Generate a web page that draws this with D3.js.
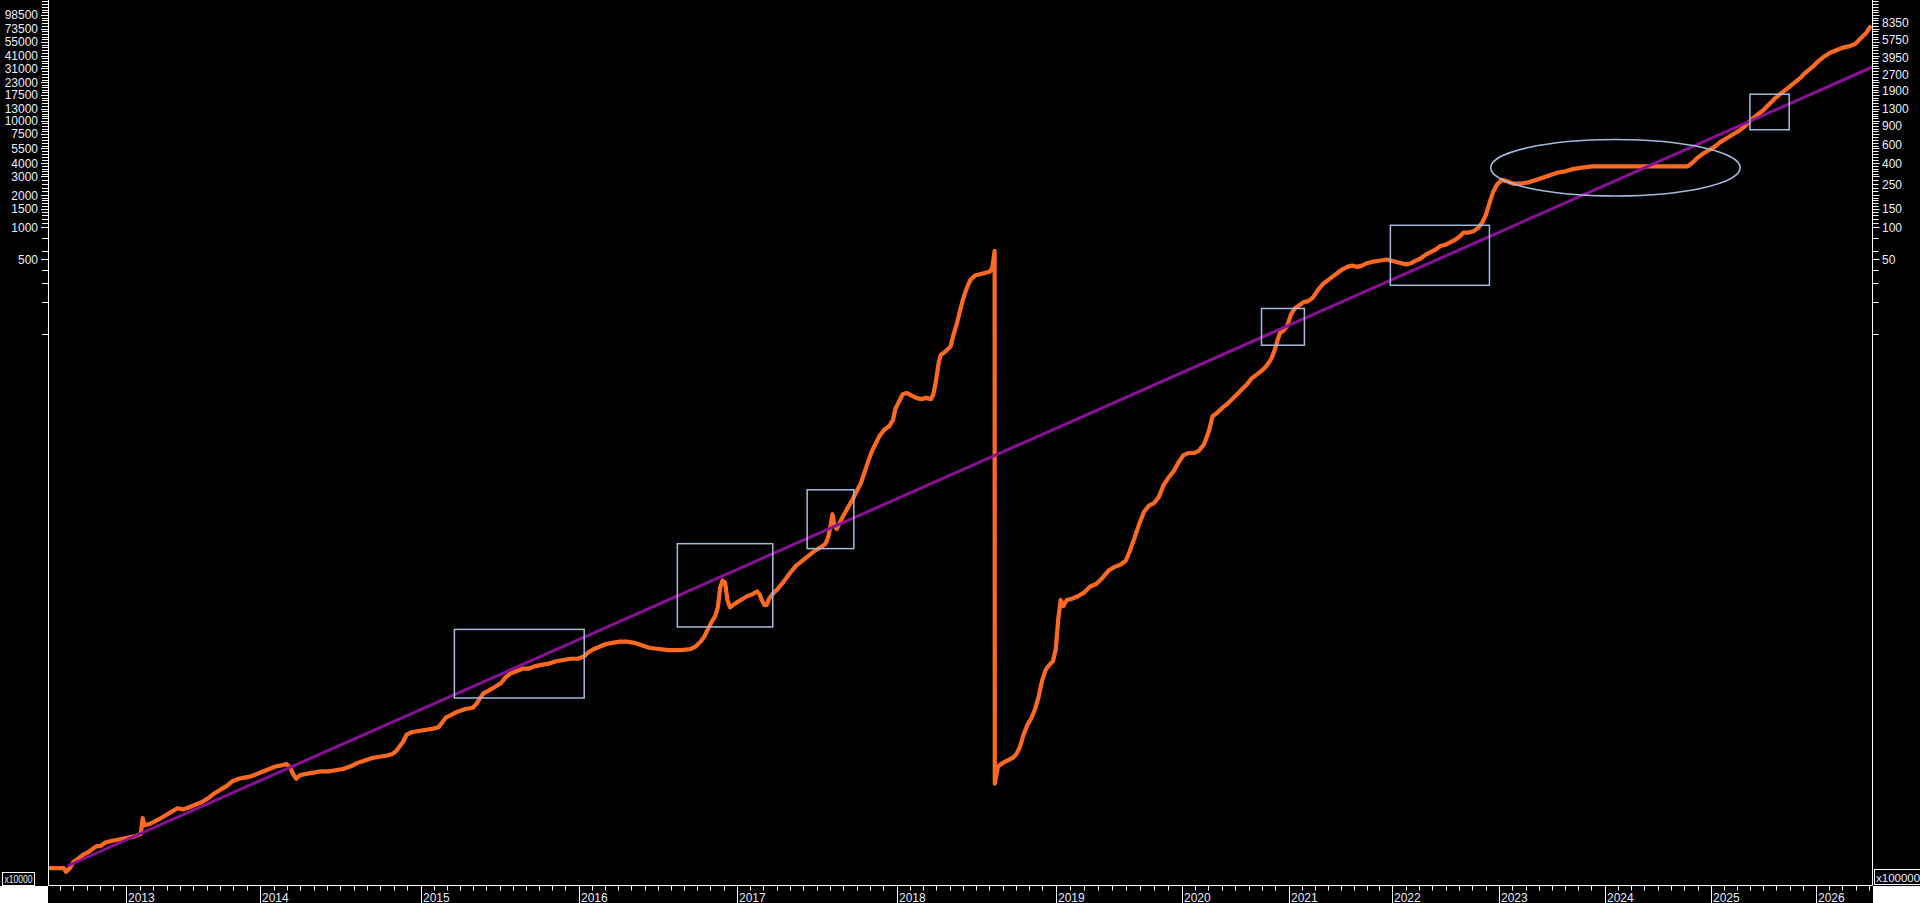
<!DOCTYPE html>
<html><head><meta charset="utf-8">
<script src="https://cdn.jsdelivr.net/npm/d3@7"></script>
<style>html,body{margin:0;padding:0;background:#000;overflow:hidden}svg{display:block}</style>
</head><body>
<svg id="c" width="1920" height="903"></svg>
<script>
// ---------------- DATA ----------------
// time axis: bars per calendar segment (platform uses a bar-index axis)
const segStart = [2012.45,2013,2014,2015,2016,2017,2018,2019,2020,2021,2022,2023,2024,2025,2026];
const segEnd   = [2013,2014,2015,2016,2017,2018,2019,2020,2021,2022,2023,2024,2025,2026,2026.53];
const segBars  = [179,307,368,363,363,367,365,289,246,238,245,242,244,241,130];
const yearLabels = ["2013","2014","2015","2016","2017","2018","2019","2020","2021","2022","2023","2024","2025","2026"];

// left axis tick labels (x10000) and right axis tick labels (x100000)
const leftTickLabels  = [98500,73500,55000,41000,31000,23000,17500,13000,10000,7500,5500,4000,3000,2000,1500,1000,500];
const leftMinorLow    = [1900,1800,1700,1600,1400,1300,1200,1100,800,600,400,300,200,100];
const rightTickLabels = [8350,5750,3950,2700,1900,1300,900,600,400,250,150,100,50];

// orange series
const seriesDates = [2012.453,2012.557,2012.574,2012.600,2012.626,2012.661,2012.695,2012.730,2012.764,2012.790,2012.816,2012.851,2012.885,2012.928,2012.972,
2013.016,2013.061,2013.107,2013.121,2013.134,2013.171,2013.208,2013.244,2013.290,2013.336,2013.382,2013.427,2013.473,2013.519,2013.565,2013.610,2013.656,2013.702,2013.748,2013.793,2013.839,2013.885,2013.931,2013.977,
2014.018,2014.057,2014.095,2014.133,2014.164,2014.187,2014.209,2014.225,2014.248,2014.286,2014.332,2014.378,2014.424,2014.470,2014.516,2014.561,2014.607,2014.653,2014.699,2014.745,2014.791,2014.821,2014.844,2014.867,2014.890,2014.913,2014.943,2014.989,
2015.036,2015.082,2015.113,2015.137,2015.160,2015.191,2015.237,2015.284,2015.330,2015.353,2015.377,2015.400,2015.431,2015.470,2015.508,2015.539,2015.570,2015.609,2015.647,2015.686,2015.725,2015.764,2015.810,2015.857,2015.903,2015.950,2015.996,
2016.035,2016.058,2016.097,2016.136,2016.174,2016.213,2016.259,2016.306,2016.352,2016.399,2016.445,2016.507,2016.569,2016.647,2016.709,2016.740,2016.771,2016.794,2016.817,2016.841,2016.864,2016.880,2016.895,2016.910,2016.926,2016.941,2016.957,2016.988,
2017.026,2017.064,2017.103,2017.126,2017.141,2017.156,2017.172,2017.187,2017.202,2017.225,2017.256,2017.294,2017.333,2017.371,2017.409,2017.448,2017.486,2017.525,2017.555,2017.571,2017.586,2017.598,2017.609,2017.624,2017.640,2017.663,2017.693,2017.724,2017.755,2017.778,2017.801,2017.824,2017.847,2017.870,2017.893,2017.923,2017.954,2017.977,2017.992,
2018.015,2018.038,2018.062,2018.092,2018.123,2018.154,2018.185,2018.216,2018.231,2018.246,2018.262,2018.277,2018.308,2018.339,2018.354,2018.377,2018.400,2018.416,2018.439,2018.462,2018.493,2018.524,2018.554,2018.585,2018.601,2018.616,2018.617,2018.637,2018.667,2018.698,2018.729,2018.752,2018.775,2018.798,2018.822,2018.845,2018.868,2018.891,2018.914,2018.937,2018.960,2018.983,
2019.001,2019.021,2019.040,2019.060,2019.089,2019.128,2019.176,2019.225,2019.274,2019.322,2019.371,2019.420,2019.469,2019.517,2019.556,2019.585,2019.624,2019.663,2019.702,2019.741,2019.780,2019.819,2019.858,2019.897,2019.936,2019.974,
2020.015,2020.061,2020.118,2020.163,2020.209,2020.255,2020.289,2020.335,2020.381,2020.426,2020.472,2020.518,2020.563,2020.609,2020.655,2020.701,2020.746,2020.792,2020.838,2020.872,2020.895,2020.918,2020.952,2020.986,
2021.021,2021.057,2021.092,2021.140,2021.187,2021.234,2021.281,2021.329,2021.376,2021.423,2021.470,2021.518,2021.565,2021.612,2021.659,2021.707,2021.754,2021.801,2021.872,2021.943,2021.991,
2022.037,2022.083,2022.129,2022.175,2022.220,2022.266,2022.312,2022.358,2022.404,2022.449,2022.495,2022.541,2022.587,2022.633,2022.667,2022.713,2022.759,2022.805,2022.840,2022.874,2022.909,2022.943,2022.978,
2023.024,2023.071,2023.129,2023.210,2023.280,2023.349,2023.419,2023.489,2023.558,2023.628,2023.709,2023.790,2023.883,2023.999,
2024.113,2024.286,2024.458,2024.631,2024.781,2024.827,2024.873,2024.919,2024.976,
2025.034,2025.092,2025.150,2025.209,2025.267,2025.325,2025.383,2025.442,2025.500,2025.558,2025.616,2025.674,2025.733,2025.791,2025.849,2025.907,2025.966,
2026.024,2026.081,2026.138,2026.196,2026.253,2026.310,2026.367,2026.425,2026.471,2026.516];
const seriesValues = [0.00096,0.00096,0.000887,0.00096,0.0011,0.001186,0.001284,0.001354,0.001466,0.001546,0.001546,0.001674,0.001719,0.001765,0.001812,
0.001861,0.00191,0.002015,0.002843,0.002425,0.00249,0.002626,0.002768,0.002997,0.003245,0.003513,0.003421,0.003607,0.003803,0.004011,0.004342,0.004827,0.005228,0.005658,0.006291,0.006632,0.00681,0.006993,0.007374,
0.007775,0.008197,0.008643,0.008875,0.009113,0.008417,0.007181,0.006632,0.007181,0.007374,0.007572,0.007775,0.007775,0.007983,0.008197,0.008643,0.009358,0.009867,0.0104,0.01068,0.01097,0.01126,0.01188,0.0132,0.01468,0.01721,0.01814,0.01863,
0.01913,0.01964,0.02017,0.02242,0.02493,0.02629,0.02846,0.03,0.03081,0.03336,0.03807,0.04234,0.04464,0.04833,0.05234,0.05976,0.06467,0.06818,0.07189,0.07189,0.07581,0.07784,0.07992,0.08426,0.08653,0.08886,0.08886,
0.0937,0.1015,0.1098,0.1158,0.1221,0.1254,0.1287,0.1287,0.1254,0.1189,0.1128,0.1098,0.107,0.107,0.1098,0.1158,0.1287,0.1431,0.1678,0.1966,0.2245,0.2702,0.4128,0.4838,0.4588,0.3168,0.2702,0.2925,
0.3168,0.3429,0.3615,0.3812,0.3615,0.3168,0.2849,0.2849,0.3252,0.3615,0.402,0.4712,0.5671,0.6647,0.7391,0.8216,0.9135,0.989,1.071,1.222,1.551,2.022,1.635,1.471,1.635,1.918,2.308,2.778,3.434,4.024,5.107,6.482,8.013,9.391,11.01,12.57,13.61,15.53,19.71,
23.11,27.08,27.81,26.38,25.02,24.36,25.02,24.36,27.08,35.29,51.12,63.19,68.42,76.06,94.01,122.5,168.4,208.1,264.1,317.8,353.4,362.9,372.6,382.5,414.2,600.1,0.005968,0.008643,0.009358,0.009867,0.0104,0.01126,0.0132,0.01721,0.02126,0.02428,0.02922,0.03807,0.05516,0.07001,0.07784,0.08426,
0.1098,0.2128,0.3168,0.2774,0.3168,0.3252,0.3429,0.3712,0.4239,0.4469,0.5101,0.5982,0.6475,0.6826,0.7391,0.8897,1.19,1.635,2.132,2.433,2.566,2.929,3.817,4.475,5.107,6.146,
7.205,7.597,7.597,8.013,9.147,12.24,16.82,18.21,20.24,21.92,24.36,27.08,30.11,33.47,38.21,41.38,44.8,49.81,58.38,72.14,86.85,101.8,107.3,119.3,
151.4,172.9,182.3,197.3,202.6,219.4,257.1,293.6,317.8,344.1,372.6,403.4,425.3,436.8,425.3,436.8,460.5,472.9,485.6,498.6,485.6,
472.9,460.5,448.5,460.5,485.6,512,554.3,584.5,616.3,667.4,685,722.2,761.5,824.5,892.8,892.8,916.7,992.4,1103,1293,1685,2139,2507,
2787,2714,2575,2575,2643,2787,2939,3099,3267,3355,3537,3632,3729,3729,
3729,3729,3729,3729,3729,4038,4489,4862,5263,
5697,6334,6859,7426,8038,8937,10200,11340,12610,14400,16430,18270,20310,22580,25100,28660,31860,
36370,40430,43780,46150,48660,49960,52690,60150,66870,78400];

// purple trend line
const trendDates  = [2012.586, 2026.53];
const trendValues = [0.001012, 32020];

// annotation boxes: [fromDate, toDate, topValue, bottomValue]
const annoRects = [
  [2015.214,2016.035,0.1676,0.03807],
  [2016.624,2017.225,1.070,0.1767],
  [2017.440,2017.732,3.428,0.962],
  [2020.746,2021.151,172.9,78.14],
  [2021.980,2022.909,1044,285.3],
  [2025.372,2025.746,17770,8247]
];
const annoEllipse = [2022.921,2025.279,6661,1971];

// ---------------- CHART ----------------
const W=1920,H=903, L=48.5, R=1872.5, B=885.5;
const svg = d3.select("#c");
svg.append("rect").attr("width",W).attr("height",H).attr("fill","#000");

const cum=[0]; segBars.forEach((b,i)=>cum.push(cum[i]+b));
const totalBars=cum[cum.length-1];
function dateToBar(d){
  for(let i=0;i<segStart.length;i++){
    if(d<segEnd[i]||i===segStart.length-1){
      return cum[i]+(d-segStart[i])/(segEnd[i]-segStart[i])*segBars[i];
    }
  }
}
const x = d3.scaleLinear().domain([0,totalBars]).range([L,R]);
const y = d3.scaleLog().domain([0.001,100000]).range([866.3,14.3]);
const yR = d3.scaleLog().domain([0.0001,10000]).range([866.3,14.3]);

const FONT="'Liberation Sans', Arial, sans-serif";
const TXT="#e9eefc";

// clip
svg.append("clipPath").attr("id","plot").append("rect").attr("x",L).attr("y",0).attr("width",R-L).attr("height",B);

// series
const series = seriesDates.map((d,i)=>[d,seriesValues[i]]);
const line = d3.line().x(d=>x(dateToBar(d[0]))).y(d=>y(d[1]));
svg.append("path").attr("clip-path","url(#plot)").attr("d",line(series))
  .attr("fill","none").attr("stroke","#ff6a22").attr("stroke-width",4.2).attr("stroke-linejoin","round");

const trend = trendDates.map((d,i)=>[d,trendValues[i]]);
svg.append("path").attr("clip-path","url(#plot)").attr("d",line(trend))
  .attr("fill","none").attr("stroke","#8a1097").attr("stroke-width",3);

// annotations
const AN="#a6bbdc";
svg.append("g").selectAll("rect").data(annoRects).join("rect")
  .attr("x",d=>x(dateToBar(d[0]))).attr("y",d=>y(d[2]))
  .attr("width",d=>x(dateToBar(d[1]))-x(dateToBar(d[0])))
  .attr("height",d=>y(d[3])-y(d[2]))
  .attr("fill","none").attr("stroke",AN).attr("stroke-width",1.5);
{
  const e=annoEllipse, x0=x(dateToBar(e[0])), x1=x(dateToBar(e[1])), y0=y(e[2]), y1=y(e[3]);
  svg.append("ellipse").attr("cx",(x0+x1)/2).attr("cy",(y0+y1)/2).attr("rx",(x1-x0)/2).attr("ry",(y1-y0)/2)
    .attr("fill","none").attr("stroke",AN).attr("stroke-width",1.5);
}

// ---- axes frame ----
svg.append("line").attr("x1",L).attr("x2",L).attr("y1",0).attr("y2",B).attr("stroke","#fff");
svg.append("line").attr("x1",R).attr("x2",R).attr("y1",0).attr("y2",B).attr("stroke","#fff");
svg.append("line").attr("x1",L).attr("x2",R).attr("y1",B).attr("y2",B).attr("stroke","#fff");
svg.append("rect").attr("x",0).attr("y",886).attr("width",48).attr("height",17).attr("fill","#fff");
svg.append("rect").attr("x",1873).attr("y",886).attr("width",47).attr("height",17).attr("fill","#fff");

// ---- y ticks ----
const minor=[];
for(let i=0;i<leftTickLabels.length-1;i++){
  const a=leftTickLabels[i+1], b=leftTickLabels[i];
  if(a<2000) continue;
  for(let k=1;k<5;k++) minor.push(a*Math.pow(b/a,k/5));
}
{ const r=leftTickLabels[0]/leftTickLabels[1]; for(let k=1;k<8;k++) minor.push(leftTickLabels[0]*Math.pow(r,k/5)); }
leftMinorLow.forEach(v=>minor.push(v));
const yTicksAll = leftTickLabels.concat(minor).filter(v=>y(v)>=0);

const gl = svg.append("g");
gl.selectAll("line").data(yTicksAll).join("line")
  .attr("x1",d=>leftTickLabels.includes(d)?41:42).attr("x2",L).attr("y1",d=>Math.round(y(d))+0.5).attr("y2",d=>Math.round(y(d))+0.5)
  .attr("stroke","#fff");
gl.selectAll("text").data(leftTickLabels).join("text")
  .attr("x",38).attr("y",d=>y(d)).attr("dy","0.36em").attr("text-anchor","end")
  .attr("font-family",FONT).attr("font-size",12).attr("fill",TXT).text(d=>d);

const gr = svg.append("g");
gr.selectAll("line").data(yTicksAll).join("line")
  .attr("x1",R).attr("x2",d=>leftTickLabels.includes(d)?R+7:R+6).attr("y1",d=>Math.round(y(d))+0.5).attr("y2",d=>Math.round(y(d))+0.5)
  .attr("stroke","#fff");
gr.selectAll("text").data(rightTickLabels).join("text")
  .attr("x",1882).attr("y",d=>yR(d)).attr("dy","0.36em").attr("text-anchor","start")
  .attr("font-family",FONT).attr("font-size",12).attr("fill",TXT).text(d=>d);

// ---- x ticks ----
const xMinor=[];
for(let i=0;i<segBars.length;i++){
  const b0=cum[i], nb=segBars[i];
  if(i===0){ for(let t=cum[1]-30.5;t>=0;t-=30.5) xMinor.push(t); }
  else if(i===segBars.length-1){ for(let t=b0+30.5;t<b0+nb;t+=30.5) xMinor.push(t); }
  else { const n=Math.round(nb/30.5), st=nb/n; for(let k=1;k<n;k++) xMinor.push(b0+k*st); }
}
const gx=svg.append("g");
gx.selectAll("line.m").data(xMinor).join("line").attr("class","m")
  .attr("x1",d=>Math.round(x(d))+0.5).attr("x2",d=>Math.round(x(d))+0.5).attr("y1",B).attr("y2",B+5).attr("stroke","#fff");
const yearBars = yearLabels.map((t,i)=>cum[i+1]);
gx.selectAll("line.y").data(yearBars).join("line").attr("class","y")
  .attr("x1",d=>Math.round(x(d))+0.5).attr("x2",d=>Math.round(x(d))+0.5).attr("y1",B).attr("y2",H).attr("stroke","#fff");
gx.selectAll("text").data(yearLabels).join("text")
  .attr("x",(d,i)=>Math.round(x(yearBars[i]))+2).attr("y",901.5)
  .attr("font-family",FONT).attr("font-size",12).attr("fill",TXT).text(d=>d);

// ---- multiplier boxes ----
svg.append("rect").attr("x",2.5).attr("y",872.5).attr("width",32).attr("height",13).attr("fill","#000").attr("stroke","#fff");
svg.append("text").attr("x",4.5).attr("y",882.5).attr("textLength",28).attr("lengthAdjust","spacingAndGlyphs")
  .attr("font-family",FONT).attr("font-size",10.5).attr("fill",TXT).text("x10000");
svg.append("rect").attr("x",1874.5).attr("y",869.5).attr("width",50).attr("height",15).attr("fill","#000").attr("stroke","#fff");
svg.append("text").attr("x",1876).attr("y",881.5).attr("font-family",FONT).attr("font-size",11.5).attr("fill",TXT).text("x100000");
</script></body></html>
